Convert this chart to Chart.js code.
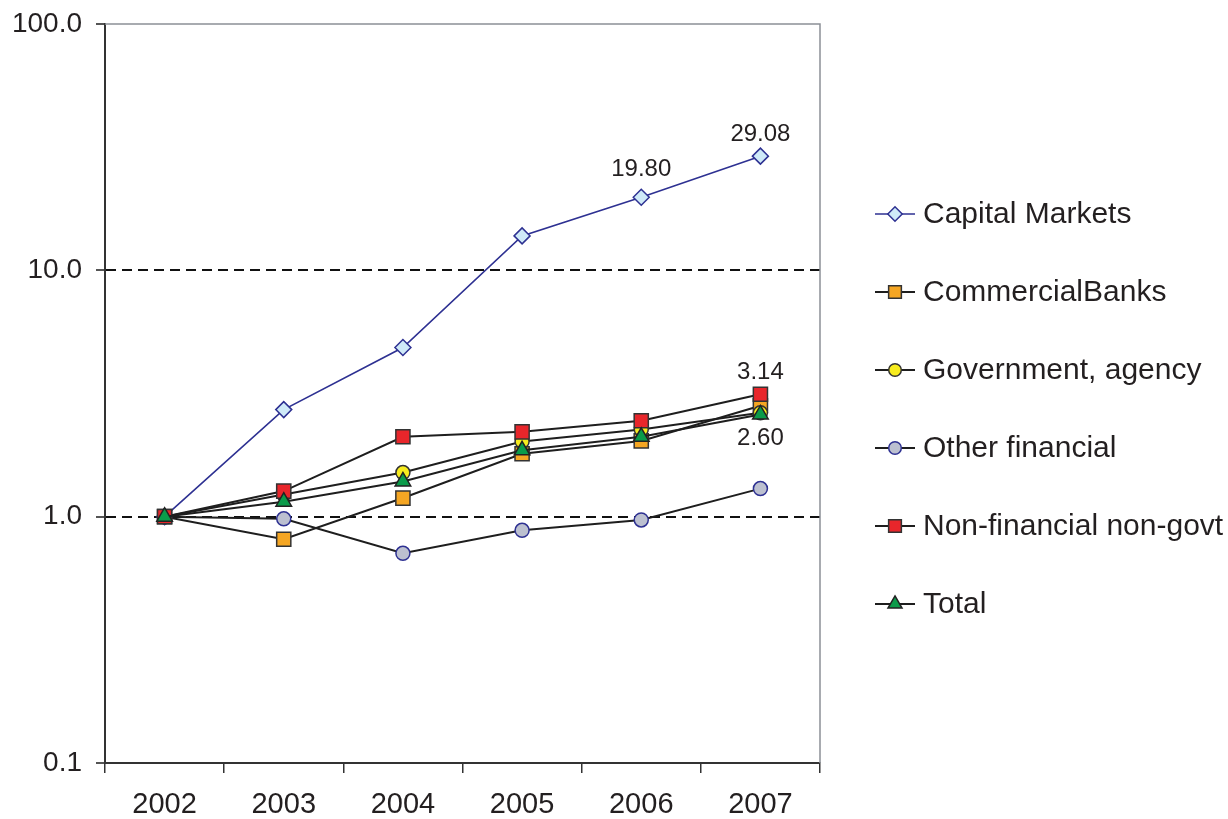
<!DOCTYPE html>
<html>
<head>
<meta charset="utf-8">
<script src="https://cdn.jsdelivr.net/npm/chart.js@4/dist/chart.umd.min.js"></script>
<style>
  html, body { margin: 0; padding: 0; background: #fff; }
  #wrap { width: 1228px; height: 819px; }
</style>
</head>
<body>
<div id="wrap"><canvas id="growthChart" width="1228" height="819"></canvas></div>
<script>
// categories and series (index, 2002 = 1.0)
var years = ['2002', '2003', '2004', '2005', '2006', '2007'];
var capitalMarkets = [1.00, 2.72, 4.86, 13.8, 19.80, 29.08];
var commercialBanks = [1.00, 0.81, 1.19, 1.80, 2.03, 2.82];
var government = [1.00, 1.23, 1.51, 2.02, 2.26, 2.64];
var otherFinancial = [1.00, 0.98, 0.71, 0.88, 0.97, 1.30];
var nonFinancial = [1.00, 1.27, 2.11, 2.21, 2.45, 3.14];
var total = [1.00, 1.15, 1.39, 1.86, 2.11, 2.60];
var yTicks = [0.1, 1, 10, 100];

var FONT = '"Liberation Sans", Arial, Helvetica, sans-serif';
var TEXT = '#231f20';
var DARK = '#1e1e1e';
var BLUE = '#2e3192';

function series(label, data, color, pointStyle, fill, edge, radius, width)
{
    return {
        label: label,
        data: data,
        borderColor: color,
        borderWidth: width,
        pointStyle: pointStyle,
        pointRadius: radius,
        pointBackgroundColor: fill,
        pointBorderColor: edge,
        pointBorderWidth: 1.5,
        tension: 0,
        fill: false
    };
}

var datasets = [
    series('Capital Markets', capitalMarkets, BLUE, 'rectRot', '#cfeaf8', BLUE, 8, 1.6),
    series('CommercialBanks', commercialBanks, DARK, 'rect', '#f5a623', '#333', 10, 2),
    series('Government, agency', government, DARK, 'circle', '#f7ec1e', '#333', 7, 2),
    series('Other financial', otherFinancial, DARK, 'circle', '#bcc0d0', BLUE, 7, 2),
    series('Non-financial non-govt', nonFinancial, DARK, 'rect', '#e8262b', '#333', 10, 2),
    series('Total', total, DARK, 'triangle', '#0b9b4a', '#222', 9, 2)
];
// later series drawn on top, like the original
datasets.forEach(function (d, i) { d.order = datasets.length - i; });

// value labels: [dataset, point, offset]
var valueLabels = [[0, 4, -28], [0, 5, -22], [4, 5, -22], [5, 5, 24]];

var extrasPlugin = {
    id: 'extras',
    afterDatasetsDraw: function (chart) {
        var ctx = chart.ctx;
        var area = chart.chartArea;
        ctx.save();
        // grey frame on top and right
        ctx.strokeStyle = '#8c9096';
        ctx.lineWidth = 1.5;
        ctx.beginPath();
        ctx.moveTo(area.left, area.top);
        ctx.lineTo(area.right, area.top);
        ctx.lineTo(area.right, area.bottom);
        ctx.stroke();

        // value labels
        ctx.fillStyle = TEXT;
        ctx.font = '24px ' + FONT;
        ctx.textAlign = 'center';
        ctx.textBaseline = 'middle';
        valueLabels.forEach(function (v) {
            var pt = chart.getDatasetMeta(v[0]).data[v[1]];
            var val = chart.data.datasets[v[0]].data[v[1]];
            ctx.fillText(val.toFixed(2), pt.x, pt.y + v[2]);
        });

        // legend on the right
        var x0 = 875, x1 = 915, tx = 923, y = 214, step = 78;
        ctx.textAlign = 'left';
        ctx.font = '30px ' + FONT;
        chart.data.datasets.forEach(function (d) {
            ctx.strokeStyle = d.borderColor;
            ctx.lineWidth = d.borderWidth;
            ctx.beginPath();
            ctx.moveTo(x0, y);
            ctx.lineTo(x1, y);
            ctx.stroke();
            ctx.fillStyle = d.pointBackgroundColor;
            ctx.strokeStyle = d.pointBorderColor;
            ctx.lineWidth = 1.5;
            Chart.helpers.drawPoint(ctx, { pointStyle: d.pointStyle, radius: d.pointRadius * 0.9, borderWidth: 1.5 }, (x0 + x1) / 2, y);
            ctx.fillStyle = TEXT;
            ctx.fillText(d.label, tx, y + 1);
            y += step;
        });
        ctx.restore();
    }
};

var ctx = document.getElementById('growthChart').getContext('2d');

var myChart = new Chart(ctx, {
    type: 'line',
    data: {
        labels: years,
        datasets: datasets
    },
    plugins: [extrasPlugin],
    options: {
        responsive: false,
        animation: false,
        layout: {
            padding: { left: 0, right: 408, top: 24, bottom: 0 }
        },
        plugins: {
            legend: { display: false },
            tooltip: { enabled: false }
        },
        scales: {
            x: {
                offset: true,
                grid: {
                    offset: true,
                    drawOnChartArea: false,
                    tickLength: 10,
                    tickColor: '#333',
                    lineWidth: 1.5
                },
                border: { color: '#333', width: 2 },
                ticks: {
                    color: TEXT,
                    font: { family: FONT, size: 29 },
                    padding: 15,
                    maxRotation: 0
                },
                afterFit: function (scale) { scale.height = 56; }
            },
            y: {
                type: 'logarithmic',
                min: 0.1,
                max: 100,
                afterBuildTicks: function (scale) {
                    scale.ticks = yTicks.map(function (v) { return { value: v }; });
                },
                grid: {
                    color: function (c) {
                        var v = c.tick ? c.tick.value : 0;
                        return (v === 1 || v === 10) ? '#111' : 'rgba(0,0,0,0)';
                    },
                    lineWidth: 2,
                    tickColor: '#555',
                    tickLength: 9
                },
                border: { color: '#333', width: 2, dash: [10, 6] },
                ticks: {
                    color: TEXT,
                    font: { family: FONT, size: 28 },
                    padding: 14,
                    callback: function (v) { return Number(v).toFixed(1); }
                },
                afterFit: function (scale) {
                    scale.width = 105;
                    scale.paddingTop = 0;
                    scale.paddingBottom = 0;
                }
            }
        }
    }
});
</script>
</body>
</html>
